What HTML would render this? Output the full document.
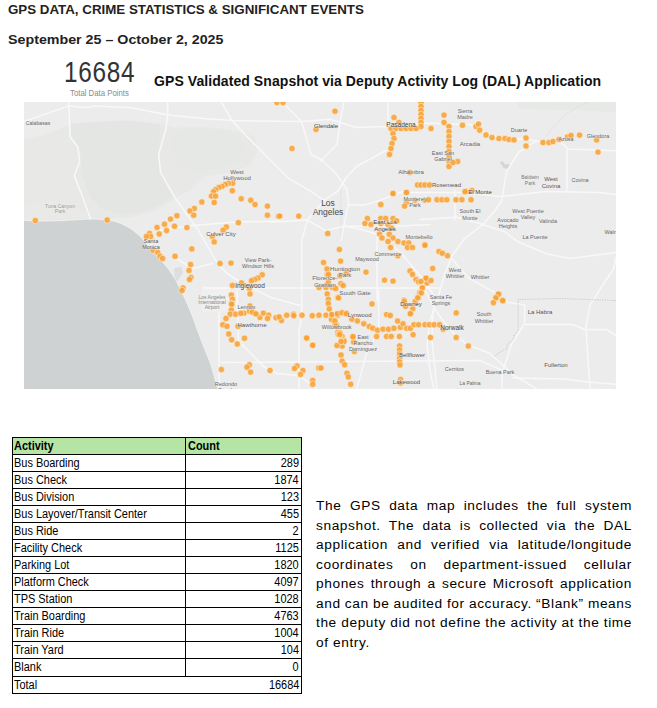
<!DOCTYPE html>
<html><head><meta charset="utf-8">
<style>
html,body{margin:0;padding:0;background:#fff;}
body{width:657px;height:708px;position:relative;overflow:hidden;font-family:"Liberation Sans",sans-serif;color:#000;}
.abs{position:absolute;white-space:nowrap;}
.t1{left:8px;top:2.6px;font-size:12.5px;font-weight:700;color:#222;transform:scaleX(1.066);transform-origin:left top;}
.t2{left:8px;top:32.6px;font-size:12.5px;font-weight:700;color:#222;transform:scaleX(1.14);transform-origin:left top;}
.big{left:63.5px;top:55.5px;font-size:29px;color:#333;letter-spacing:0.85px;transform:scaleX(0.84);transform-origin:left top;}
.sub{left:70px;top:88px;font-size:8.4px;color:#8a8a8a;transform:scaleX(0.93);transform-origin:left top;}
.h2{left:154px;top:73px;font-size:14px;font-weight:700;color:#111;letter-spacing:0.075px;}
.tbl{position:absolute;left:0;top:0;width:657px;height:708px;}
.row{position:absolute;left:13px;width:288px;}
.c1,.c2,.c2l{position:absolute;font-size:12px;line-height:12px;white-space:nowrap;color:#000;}
.c1{left:1px;top:2px;transform:scaleX(0.912);transform-origin:left top;}
.c2l{left:175px;top:2px;transform:scaleX(0.912);transform-origin:left top;}
.c2{right:2px;top:2px;transform:scaleX(0.912);transform-origin:right top;}
.b{font-weight:700;}
.para{position:absolute;left:316px;top:496px;width:316px;font-size:13.7px;line-height:19.5px;color:#000;letter-spacing:0.6px;word-spacing:-1.5px;}
.para .l{display:block;text-align:justify;text-align-last:justify;white-space:nowrap;height:19.5px;}
.para .ll{display:block;text-align:left;height:19.5px;word-spacing:0;}
</style></head><body>
<div class="abs t1">GPS DATA, CRIME STATISTICS &amp; SIGNIFICANT EVENTS</div>
<div class="abs t2">September 25 – October 2, 2025</div>
<div class="abs big">16684</div>
<div class="abs sub">Total Data Points</div>
<div class="abs h2">GPS Validated Snapshot via Deputy Activity Log (DAL) Application</div>
<svg width="592" height="287.5" viewBox="24 101.5 592 287.5" style="position:absolute;left:24px;top:101.5px;display:block">
<rect x="24" y="101.5" width="592" height="287.5" fill="#ececec"/>
<path d="M24,139 L45,134 L70,124 L100,122 L130,121 L160,123 L175,127 L205,126 L235,130 L255,136 L258,150 L250,165 L230,172 L205,176 L190,190 L175,198 L165,205 L150,212 L130,217 L100,219 L60,220 L24,220 Z" fill="#e8e9e7"/>
<path d="M71,123 L100,121 L130,120 L160,124 L159,150 L162,175 L172,196 L160,205 L140,212 L120,214 L100,208 L90,195 L82,175 L80,150 L72,138 Z" fill="#e4e6e3"/>
<path d="M175,130 L200,128 L230,132 L245,145 L240,160 L220,168 L195,172 L180,165 L172,150 Z" fill="#e6e8e5"/>
<path d="M24,205 L50,200 L75,205 L90,215 L24,220 Z" fill="#e9eae8"/>
<path d="M518,101 L616,101 L616,112 L580,110 L540,109 L518,108 Z" fill="#e7e9e6"/>
<path d="M499.7,161.6 L503,161 L505,164 L509,163.5 L511,166 L507,168.5 L503,167 Z" fill="#d3d6d8"/>
<path d="M545,136.5 L556,124 L566,113.7 L578,106 L588.7,101.5" fill="none" stroke="#dcdcdc" stroke-width="0.6"/>
<path d="M174,268 L181,266 L183,272 L178,280 L175,283 Z" fill="#dcdedf"/>
<rect x="202" y="286" width="28" height="25" fill="#f0f0f0"/>
<path d="M15,219.8 L24,219.8 C40,221 60,220.5 80,219 C95,218 107,218.5 117,221.5 C130,226 140,234 147,244 C153,252 158,257 163,262 C170,270 175,277 178,284 C182,292 185,298 188,305 C191,312 194,319 196,326 C199,333 201,340 204,347 C207,354 210,361 212,368 C214,375 216,382 218,389 L220,396 L15,396 L15,219.8 Z" fill="#ced2d2" stroke="#f2f2f2" stroke-width="0.9"/>
<path d="M340.9,189 L340.9,240" fill="none" stroke="#e2e2e2" stroke-width="1"/>
<g fill="none" stroke="#f8f8f8" stroke-width="1.5" stroke-linejoin="round" stroke-linecap="round">
<path d="M24,121 L68.9,105.4 L86.4,107 L95.8,105.4 L131.8,107.2 L167.7,114.4 L203.6,118 L232,120 L260,120.5 L301.5,121 L330,118.7 L356,127 L388,126 L424,122.4 L470,124 L483.7,132 L499.7,137.7 L527,138.8 L538.5,141 L561.3,142.2 L568,148.4 L616,150.2"/>
<path d="M68.9,101 L68.9,105.4 L70,136 L77.9,146.7 L79.7,161 L74.3,175.4 L81.5,193.4 L90.5,218.5"/>
<path d="M167.7,101 L167.7,114.4 L165.9,128.7 L158.7,153.9 L160.5,171.8 L174.9,197 L192.8,222.1 L198,229 L217.5,263 L227,273 L242,282.5 L271,297 L300,305"/>
<path d="M221,101 L232,120 L245,134 L260.6,149.7 L276,165.3 L289,178.2 L310.4,190.7 L324.2,199.8 L337.9,190.7 L342.4,183 L348,175 L356.5,166 L386,150"/>
<path d="M282,101 L301.5,121 L311,154 L321,159 L335,172 L340.9,180 L347,189.1 L348.5,202.8 L343.9,225.7 L340.9,240"/>
<path d="M388,101 L388,126"/>
<path d="M344,101 L339.5,125 L337,144 L320,161"/>
<path d="M348.5,204.4 L365.2,204.4 L380,199.8 L406,190"/>
<path d="M400,192 L462,192 L500,196 L546,191 L599,192 L616,194"/>
<path d="M567,149 L567,190.6"/>
<path d="M536,140.6 L518.7,151.6 L506.6,171 L501.7,200 L495.5,209.5 L483,224 L464,238.7 L451.7,255.8 L444.4,275 L437,300 L430,320 L427,345 L430,370 L434,389"/>
<path d="M270,221.7 L307.4,219.6 L325.7,230.2 L343.9,225.7 L360.7,228.7 L380,234.8 L401.5,253 L426,282.5 L437,300"/>
<path d="M343.9,225.7 L390,226 L430,224"/>
<path d="M159,230 L193,225 L232,221.7 L280,220.5"/>
<path d="M324.2,199.8 L307.4,219.6 L301.7,240"/>
<path d="M176,258 L193,268 L212.6,263"/>
<path d="M203,287.5 L440,287.5"/>
<path d="M301.7,240 L301.7,316 L299,330 L299,389"/>
<path d="M377,236 L377,300"/>
<path d="M420,219 L456.5,216.8 L483,224 L505,231.4 L517.5,241 L546.6,253.3 L570,258 L616,252"/>
<path d="M451.7,258 L468.7,277.7 L495.5,292.3 L508,302 L524.7,304.4 L524.7,323.7"/>
<path d="M455,190 L455,219"/>
<path d="M237,290 L238.5,340 L250.6,353 L263,365.6 L277.5,373 L299.3,375 L316.4,388"/>
<path d="M221,362 L480,360 L514,375"/>
<path d="M219,312 L219,388"/>
<path d="M378.7,290 L378.7,330 L366.5,353 L356.8,388"/>
<path d="M433,309.5 L432,340 L437,389"/>
<path d="M425,290 L437,312 L449.5,329 L466.4,343.6 L490,353 L514,375 L536,388"/>
<path d="M616,257 L613.8,268 L601,287.2 L590.2,304.4 L585.9,325.9 L588,360.2 L590.2,390"/>
<path d="M524,324 L572.7,324 L584.7,329 L606.8,329 L616,335"/>
<path d="M524,324 L511.7,343.6 L502,373 L502,388"/>
<path d="M512.9,377.4 L564.4,378.5 L590.2,381.7 L616,383.8"/>
</g>
<path d="M616,300 L560,298 L518.2,299 L518.2,330 L514,334 L514,338 L510.7,341 L507,344 L507,348 L500,351.6 L494,356" fill="none" stroke="#b8b8b8" stroke-width="0.6" stroke-dasharray="1.5,1"/>
<g fill="#f7a235" fill-opacity="0.88" stroke="#ffffff" stroke-opacity="0.55" stroke-width="0.9">
<circle cx="35.3" cy="220" r="3.2"/>
<circle cx="107.2" cy="219.5" r="3.2"/>
<circle cx="277" cy="102" r="3.2"/>
<circle cx="283" cy="102" r="3.2"/>
<circle cx="316" cy="129" r="3.2"/>
<circle cx="292" cy="148" r="3.2"/>
<circle cx="335" cy="110.7" r="3.2"/>
<circle cx="421" cy="102" r="3.2"/>
<circle cx="421" cy="106" r="3.2"/>
<circle cx="421" cy="110" r="3.2"/>
<circle cx="421" cy="114" r="3.2"/>
<circle cx="421" cy="118" r="3.2"/>
<circle cx="421" cy="122" r="3.2"/>
<circle cx="421" cy="126" r="3.2"/>
<circle cx="391" cy="128" r="3.2"/>
<circle cx="396" cy="128" r="3.2"/>
<circle cx="401" cy="128" r="3.2"/>
<circle cx="406" cy="128" r="3.2"/>
<circle cx="411" cy="128" r="3.2"/>
<circle cx="416" cy="128" r="3.2"/>
<circle cx="394" cy="117" r="3.2"/>
<circle cx="399" cy="122" r="3.2"/>
<circle cx="393" cy="133" r="3.2"/>
<circle cx="394" cy="138" r="3.2"/>
<circle cx="392" cy="143" r="3.2"/>
<circle cx="391" cy="148" r="3.2"/>
<circle cx="389.5" cy="154" r="3.2"/>
<circle cx="431" cy="128" r="3.2"/>
<circle cx="444" cy="122" r="3.2"/>
<circle cx="462.5" cy="124.8" r="3.2"/>
<circle cx="476" cy="126" r="3.2"/>
<circle cx="444" cy="114.6" r="3.2"/>
<circle cx="449" cy="126" r="3.2"/>
<circle cx="449" cy="131" r="3.2"/>
<circle cx="449" cy="136" r="3.2"/>
<circle cx="449" cy="141" r="3.2"/>
<circle cx="449" cy="146" r="3.2"/>
<circle cx="449" cy="151" r="3.2"/>
<circle cx="449" cy="156" r="3.2"/>
<circle cx="449" cy="161" r="3.2"/>
<circle cx="449" cy="166" r="3.2"/>
<circle cx="457.7" cy="161" r="3.2"/>
<circle cx="453" cy="162" r="3.2"/>
<circle cx="417.5" cy="184.5" r="3.2"/>
<circle cx="421" cy="184.5" r="3.2"/>
<circle cx="425" cy="184.5" r="3.2"/>
<circle cx="429.6" cy="184.5" r="3.2"/>
<circle cx="393" cy="193" r="3.2"/>
<circle cx="406.5" cy="192" r="3.2"/>
<circle cx="410" cy="172" r="3.2"/>
<circle cx="466" cy="190.6" r="3.2"/>
<circle cx="472" cy="190" r="3.2"/>
<circle cx="478.5" cy="123.6" r="3.2"/>
<circle cx="479.7" cy="129.7" r="3.2"/>
<circle cx="486" cy="134.5" r="3.2"/>
<circle cx="492" cy="137" r="3.2"/>
<circle cx="499" cy="138" r="3.2"/>
<circle cx="505" cy="138" r="3.2"/>
<circle cx="509" cy="139" r="3.2"/>
<circle cx="514" cy="139.4" r="3.2"/>
<circle cx="526" cy="137.5" r="3.2"/>
<circle cx="526" cy="145.5" r="3.2"/>
<circle cx="543" cy="142" r="3.2"/>
<circle cx="549" cy="142" r="3.2"/>
<circle cx="553" cy="141" r="3.2"/>
<circle cx="559" cy="139" r="3.2"/>
<circle cx="567.5" cy="136.5" r="3.2"/>
<circle cx="571" cy="135" r="3.2"/>
<circle cx="579.6" cy="134.6" r="3.2"/>
<circle cx="596.6" cy="139.4" r="3.2"/>
<circle cx="598" cy="151.6" r="3.2"/>
<circle cx="232.7" cy="182.8" r="3.2"/>
<circle cx="228.4" cy="182.8" r="3.2"/>
<circle cx="225.2" cy="183.9" r="3.2"/>
<circle cx="222" cy="186" r="3.2"/>
<circle cx="218.8" cy="187" r="3.2"/>
<circle cx="215.6" cy="189.2" r="3.2"/>
<circle cx="213.5" cy="191.3" r="3.2"/>
<circle cx="211.4" cy="195.6" r="3.2"/>
<circle cx="215.6" cy="195.6" r="3.2"/>
<circle cx="214.2" cy="202" r="3.2"/>
<circle cx="232.3" cy="190.2" r="3.2"/>
<circle cx="201.8" cy="201.5" r="3.2"/>
<circle cx="194.3" cy="208" r="3.2"/>
<circle cx="190" cy="210.5" r="3.2"/>
<circle cx="193.7" cy="214.7" r="3.2"/>
<circle cx="176.9" cy="215.2" r="3.2"/>
<circle cx="170.5" cy="218.6" r="3.2"/>
<circle cx="164.5" cy="223.7" r="3.2"/>
<circle cx="157" cy="227" r="3.2"/>
<circle cx="174.5" cy="225.8" r="3.2"/>
<circle cx="166.6" cy="230" r="3.2"/>
<circle cx="159.2" cy="233.5" r="3.2"/>
<circle cx="149.6" cy="232.9" r="3.2"/>
<circle cx="150.7" cy="236" r="3.2"/>
<circle cx="146.4" cy="236" r="3.2"/>
<circle cx="186.9" cy="227.1" r="3.2"/>
<circle cx="238.4" cy="222.2" r="3.2"/>
<circle cx="226.3" cy="226.5" r="3.2"/>
<circle cx="223.1" cy="229.7" r="3.2"/>
<circle cx="212.4" cy="236" r="3.2"/>
<circle cx="214.2" cy="241.4" r="3.2"/>
<circle cx="191.8" cy="248.4" r="3.2"/>
<circle cx="241.2" cy="198.3" r="3.2"/>
<circle cx="250.8" cy="199.8" r="3.2"/>
<circle cx="255" cy="204" r="3.2"/>
<circle cx="267.4" cy="205.6" r="3.2"/>
<circle cx="267.4" cy="214.7" r="3.2"/>
<circle cx="278.5" cy="215.8" r="3.2"/>
<circle cx="153" cy="249.7" r="3.2"/>
<circle cx="157.7" cy="252" r="3.2"/>
<circle cx="160" cy="255.8" r="3.2"/>
<circle cx="162.6" cy="258" r="3.2"/>
<circle cx="175" cy="255.8" r="3.2"/>
<circle cx="190.6" cy="264" r="3.2"/>
<circle cx="189" cy="270" r="3.2"/>
<circle cx="191" cy="277" r="3.2"/>
<circle cx="189.4" cy="279" r="3.2"/>
<circle cx="183" cy="287.4" r="3.2"/>
<circle cx="182" cy="290" r="3.2"/>
<circle cx="220" cy="263" r="3.2"/>
<circle cx="231" cy="262.6" r="3.2"/>
<circle cx="262.2" cy="274.3" r="3.2"/>
<circle cx="258" cy="277.5" r="3.2"/>
<circle cx="254.7" cy="279" r="3.2"/>
<circle cx="251.5" cy="280.2" r="3.2"/>
<circle cx="241.5" cy="282.4" r="3.2"/>
<circle cx="232.4" cy="285" r="3.2"/>
<circle cx="249.4" cy="288" r="3.2"/>
<circle cx="250" cy="293.4" r="3.2"/>
<circle cx="231.3" cy="294.5" r="3.2"/>
<circle cx="232.4" cy="298.8" r="3.2"/>
<circle cx="231.3" cy="303" r="3.2"/>
<circle cx="231.3" cy="309.4" r="3.2"/>
<circle cx="230.2" cy="313.7" r="3.2"/>
<circle cx="235.6" cy="313.7" r="3.2"/>
<circle cx="244" cy="312.6" r="3.2"/>
<circle cx="249.4" cy="310.5" r="3.2"/>
<circle cx="254.7" cy="312.6" r="3.2"/>
<circle cx="260" cy="316.9" r="3.2"/>
<circle cx="263.3" cy="312.6" r="3.2"/>
<circle cx="268.6" cy="314.7" r="3.2"/>
<circle cx="267.5" cy="318" r="3.2"/>
<circle cx="276" cy="317.3" r="3.2"/>
<circle cx="281.4" cy="320" r="3.2"/>
<circle cx="286.7" cy="314.7" r="3.2"/>
<circle cx="293.5" cy="313.7" r="3.2"/>
<circle cx="302" cy="314.7" r="3.2"/>
<circle cx="312.3" cy="315.2" r="3.2"/>
<circle cx="319" cy="314.7" r="3.2"/>
<circle cx="326" cy="314.7" r="3.2"/>
<circle cx="331.9" cy="314.3" r="3.2"/>
<circle cx="337.8" cy="314.7" r="3.2"/>
<circle cx="346.4" cy="312.6" r="3.2"/>
<circle cx="226" cy="318" r="3.2"/>
<circle cx="222.8" cy="324.3" r="3.2"/>
<circle cx="227" cy="325.8" r="3.2"/>
<circle cx="228.8" cy="333.5" r="3.2"/>
<circle cx="231.7" cy="339.3" r="3.2"/>
<circle cx="237.3" cy="343.5" r="3.2"/>
<circle cx="238" cy="325.8" r="3.2"/>
<circle cx="244.5" cy="337.8" r="3.2"/>
<circle cx="307" cy="337.8" r="3.2"/>
<circle cx="312.7" cy="344.6" r="3.2"/>
<circle cx="240.8" cy="312.8" r="3.2"/>
<circle cx="252.4" cy="311.6" r="3.2"/>
<circle cx="256" cy="313.4" r="3.2"/>
<circle cx="279.2" cy="316.4" r="3.2"/>
<circle cx="293.8" cy="315.2" r="3.2"/>
<circle cx="250" cy="305.5" r="3.2"/>
<circle cx="231.7" cy="303.7" r="3.2"/>
<circle cx="327.2" cy="274.3" r="3.2"/>
<circle cx="328.3" cy="281.7" r="3.2"/>
<circle cx="319" cy="287" r="3.2"/>
<circle cx="326" cy="287" r="3.2"/>
<circle cx="332.5" cy="287" r="3.2"/>
<circle cx="335.7" cy="288" r="3.2"/>
<circle cx="341" cy="283.2" r="3.2"/>
<circle cx="343.2" cy="285" r="3.2"/>
<circle cx="337.8" cy="297.3" r="3.2"/>
<circle cx="327.2" cy="293.4" r="3.2"/>
<circle cx="328.3" cy="298.8" r="3.2"/>
<circle cx="328.3" cy="303" r="3.2"/>
<circle cx="329.3" cy="308.4" r="3.2"/>
<circle cx="331.5" cy="319" r="3.2"/>
<circle cx="334.7" cy="323.3" r="3.2"/>
<circle cx="337.8" cy="331.8" r="3.2"/>
<circle cx="342.1" cy="336" r="3.2"/>
<circle cx="344.2" cy="340.3" r="3.2"/>
<circle cx="342.1" cy="345.6" r="3.2"/>
<circle cx="340" cy="275.3" r="3.2"/>
<circle cx="346.4" cy="272" r="3.2"/>
<circle cx="323.6" cy="262" r="3.2"/>
<circle cx="327" cy="268.4" r="3.2"/>
<circle cx="328.5" cy="274" r="3.2"/>
<circle cx="279.7" cy="215.6" r="3.2"/>
<circle cx="298.7" cy="215.6" r="3.2"/>
<circle cx="327.7" cy="233" r="3.2"/>
<circle cx="339.4" cy="249" r="3.2"/>
<circle cx="340.6" cy="260.6" r="3.2"/>
<circle cx="366" cy="271.6" r="3.2"/>
<circle cx="384.5" cy="279.6" r="3.2"/>
<circle cx="393" cy="280.6" r="3.2"/>
<circle cx="380.8" cy="204" r="3.2"/>
<circle cx="393" cy="193" r="3.2"/>
<circle cx="406.4" cy="191.9" r="3.2"/>
<circle cx="406.4" cy="201.9" r="3.2"/>
<circle cx="404.6" cy="205.6" r="3.2"/>
<circle cx="415" cy="199.7" r="3.2"/>
<circle cx="424.7" cy="199.7" r="3.2"/>
<circle cx="367.4" cy="218" r="3.2"/>
<circle cx="365" cy="223" r="3.2"/>
<circle cx="371" cy="224" r="3.2"/>
<circle cx="380.8" cy="218" r="3.2"/>
<circle cx="385.7" cy="218" r="3.2"/>
<circle cx="393" cy="218" r="3.2"/>
<circle cx="396.6" cy="220.4" r="3.2"/>
<circle cx="380.8" cy="223" r="3.2"/>
<circle cx="388" cy="224" r="3.2"/>
<circle cx="391.8" cy="227.8" r="3.2"/>
<circle cx="379.6" cy="233.4" r="3.2"/>
<circle cx="382" cy="237.5" r="3.2"/>
<circle cx="389.3" cy="233.8" r="3.2"/>
<circle cx="393" cy="237.5" r="3.2"/>
<circle cx="388" cy="241" r="3.2"/>
<circle cx="390.6" cy="247" r="3.2"/>
<circle cx="397.9" cy="241" r="3.2"/>
<circle cx="404" cy="242.4" r="3.2"/>
<circle cx="408.8" cy="242.4" r="3.2"/>
<circle cx="407.6" cy="247" r="3.2"/>
<circle cx="412.5" cy="247" r="3.2"/>
<circle cx="425" cy="244" r="3.2"/>
<circle cx="397.9" cy="255.3" r="3.2"/>
<circle cx="410" cy="270.4" r="3.2"/>
<circle cx="412.5" cy="274" r="3.2"/>
<circle cx="416" cy="279" r="3.2"/>
<circle cx="418.6" cy="281.3" r="3.2"/>
<circle cx="425.9" cy="277.7" r="3.2"/>
<circle cx="427" cy="282.5" r="3.2"/>
<circle cx="422" cy="287.4" r="3.2"/>
<circle cx="419.8" cy="292.3" r="3.2"/>
<circle cx="418.6" cy="297" r="3.2"/>
<circle cx="404" cy="299.6" r="3.2"/>
<circle cx="465" cy="191.2" r="3.2"/>
<circle cx="428.5" cy="199.3" r="3.2"/>
<circle cx="437" cy="199.3" r="3.2"/>
<circle cx="442" cy="199.3" r="3.2"/>
<circle cx="446.8" cy="199.3" r="3.2"/>
<circle cx="456" cy="199.3" r="3.2"/>
<circle cx="461.9" cy="199.3" r="3.2"/>
<circle cx="471" cy="199.3" r="3.2"/>
<circle cx="424.9" cy="244.8" r="3.2"/>
<circle cx="439" cy="251" r="3.2"/>
<circle cx="442.4" cy="252.8" r="3.2"/>
<circle cx="447.5" cy="255.3" r="3.2"/>
<circle cx="432.7" cy="268" r="3.2"/>
<circle cx="426" cy="277.7" r="3.2"/>
<circle cx="431" cy="280" r="3.2"/>
<circle cx="421" cy="281" r="3.2"/>
<circle cx="422.4" cy="287.4" r="3.2"/>
<circle cx="499" cy="293.5" r="3.2"/>
<circle cx="496.7" cy="297" r="3.2"/>
<circle cx="502.8" cy="299.6" r="3.2"/>
<circle cx="498.3" cy="293.7" r="3.2"/>
<circle cx="495.8" cy="297.3" r="3.2"/>
<circle cx="493.4" cy="302.2" r="3.2"/>
<circle cx="502.7" cy="300.2" r="3.2"/>
<circle cx="221.4" cy="369" r="3.2"/>
<circle cx="249.4" cy="364.3" r="3.2"/>
<circle cx="247" cy="366.7" r="3.2"/>
<circle cx="250.6" cy="371.6" r="3.2"/>
<circle cx="270" cy="370" r="3.2"/>
<circle cx="297" cy="365.5" r="3.2"/>
<circle cx="294.5" cy="368" r="3.2"/>
<circle cx="303" cy="370" r="3.2"/>
<circle cx="300.5" cy="374" r="3.2"/>
<circle cx="318.8" cy="367.5" r="3.2"/>
<circle cx="321" cy="367.5" r="3.2"/>
<circle cx="312.7" cy="380" r="3.2"/>
<circle cx="312.7" cy="383.8" r="3.2"/>
<circle cx="306.6" cy="337.5" r="3.2"/>
<circle cx="312.7" cy="344.8" r="3.2"/>
<circle cx="338.3" cy="333.8" r="3.2"/>
<circle cx="337" cy="345" r="3.2"/>
<circle cx="338.5" cy="297.3" r="3.2"/>
<circle cx="372" cy="303.4" r="3.2"/>
<circle cx="404.3" cy="301" r="3.2"/>
<circle cx="405.5" cy="305.8" r="3.2"/>
<circle cx="412.8" cy="308.3" r="3.2"/>
<circle cx="410.4" cy="313" r="3.2"/>
<circle cx="415.2" cy="301" r="3.2"/>
<circle cx="417.7" cy="297.3" r="3.2"/>
<circle cx="421.3" cy="292.4" r="3.2"/>
<circle cx="331.8" cy="314.1" r="3.2"/>
<circle cx="337.3" cy="313.2" r="3.2"/>
<circle cx="341.9" cy="312.3" r="3.2"/>
<circle cx="346.4" cy="313.2" r="3.2"/>
<circle cx="351.9" cy="318.7" r="3.2"/>
<circle cx="357.4" cy="320.5" r="3.2"/>
<circle cx="363.8" cy="323.3" r="3.2"/>
<circle cx="369.3" cy="326" r="3.2"/>
<circle cx="372.9" cy="327.8" r="3.2"/>
<circle cx="377.5" cy="329.7" r="3.2"/>
<circle cx="383" cy="328.7" r="3.2"/>
<circle cx="388.4" cy="328.7" r="3.2"/>
<circle cx="393.9" cy="327.8" r="3.2"/>
<circle cx="400.3" cy="326.9" r="3.2"/>
<circle cx="403" cy="323.3" r="3.2"/>
<circle cx="406.7" cy="327.8" r="3.2"/>
<circle cx="410.4" cy="327.8" r="3.2"/>
<circle cx="414" cy="324.2" r="3.2"/>
<circle cx="418.6" cy="324.2" r="3.2"/>
<circle cx="425" cy="324.2" r="3.2"/>
<circle cx="429.5" cy="324.2" r="3.2"/>
<circle cx="434.1" cy="324.2" r="3.2"/>
<circle cx="439.6" cy="324.2" r="3.2"/>
<circle cx="443.2" cy="328.7" r="3.2"/>
<circle cx="386.6" cy="314.1" r="3.2"/>
<circle cx="390.3" cy="315" r="3.2"/>
<circle cx="397.6" cy="320.5" r="3.2"/>
<circle cx="410.4" cy="313.2" r="3.2"/>
<circle cx="386.6" cy="336" r="3.2"/>
<circle cx="391.2" cy="336" r="3.2"/>
<circle cx="399.4" cy="336" r="3.2"/>
<circle cx="413.1" cy="334.2" r="3.2"/>
<circle cx="430.5" cy="337" r="3.2"/>
<circle cx="376.6" cy="336" r="3.2"/>
<circle cx="352.8" cy="336" r="3.2"/>
<circle cx="353.7" cy="341.5" r="3.2"/>
<circle cx="336.4" cy="324.2" r="3.2"/>
<circle cx="340" cy="332.4" r="3.2"/>
<circle cx="343.7" cy="339.7" r="3.2"/>
<circle cx="456.2" cy="312.4" r="3.2"/>
<circle cx="456.2" cy="337" r="3.2"/>
<circle cx="468.3" cy="345.5" r="3.2"/>
<circle cx="353" cy="336.3" r="3.2"/>
<circle cx="354.4" cy="351" r="3.2"/>
<circle cx="334.9" cy="320.4" r="3.2"/>
<circle cx="336" cy="325.3" r="3.2"/>
<circle cx="339.7" cy="334" r="3.2"/>
<circle cx="344" cy="341" r="3.2"/>
<circle cx="341" cy="341" r="3.2"/>
<circle cx="341" cy="354.5" r="3.2"/>
<circle cx="342.2" cy="360.6" r="3.2"/>
<circle cx="344.6" cy="364.3" r="3.2"/>
<circle cx="347" cy="372.8" r="3.2"/>
<circle cx="348.3" cy="376.5" r="3.2"/>
<circle cx="350.7" cy="383.8" r="3.2"/>
<circle cx="399.6" cy="345.5" r="3.2"/>
<circle cx="399.6" cy="349.5" r="3.2"/>
<circle cx="399.6" cy="353.5" r="3.2"/>
<circle cx="399.6" cy="358" r="3.2"/>
<circle cx="399.6" cy="361.5" r="3.2"/>
<circle cx="400" cy="364.5" r="3.2"/>
<circle cx="400.6" cy="379" r="3.2"/>
<circle cx="400.6" cy="382.5" r="3.2"/>
</g>
<g font-family="Liberation Sans, sans-serif" text-anchor="middle" stroke="#eeeeee" stroke-width="0.9" stroke-opacity="0.7" paint-order="stroke">
<text x="38" y="124.5" font-size="5.2" font-weight="400" fill="#666">Calabasas</text>
<text x="60" y="207" font-size="5" font-weight="400" fill="#999">Tuna Canyon</text>
<text x="60" y="212" font-size="5" font-weight="400" fill="#999">Park</text>
<text x="237" y="173" font-size="6" font-weight="400" fill="#666">West</text>
<text x="237" y="179.5" font-size="6" font-weight="400" fill="#666">Hollywood</text>
<text x="326" y="127" font-size="6" font-weight="400" fill="#444">Glendale</text>
<text x="401" y="126" font-size="6.5" font-weight="400" fill="#444">Pasadena</text>
<text x="465" y="112" font-size="5.5" font-weight="400" fill="#666">Sierra</text>
<text x="465" y="118" font-size="5.5" font-weight="400" fill="#666">Madre</text>
<text x="470" y="145" font-size="6" font-weight="400" fill="#666">Arcadia</text>
<text x="443" y="154" font-size="5.5" font-weight="400" fill="#666">East San</text>
<text x="443" y="160" font-size="5.5" font-weight="400" fill="#666">Gabriel</text>
<text x="411" y="173" font-size="6" font-weight="400" fill="#666">Alhambra</text>
<text x="446.5" y="186" font-size="6" font-weight="400" fill="#555">Rosemead</text>
<text x="480" y="193.5" font-size="6" font-weight="400" fill="#444">El Monte</text>
<text x="415" y="200" font-size="5.5" font-weight="400" fill="#666">Monterey</text>
<text x="415" y="206.5" font-size="5.5" font-weight="400" fill="#666">Park</text>
<text x="519" y="131" font-size="5.5" font-weight="400" fill="#666">Duarte</text>
<text x="566" y="140" font-size="5.5" font-weight="400" fill="#666">Azusa</text>
<text x="598" y="137.5" font-size="5.5" font-weight="400" fill="#666">Glendora</text>
<text x="530" y="178" font-size="5" font-weight="400" fill="#777">Baldwin</text>
<text x="530" y="184" font-size="5" font-weight="400" fill="#777">Park</text>
<text x="551" y="180" font-size="6" font-weight="400" fill="#555">West</text>
<text x="551" y="187" font-size="6" font-weight="400" fill="#555">Covina</text>
<text x="580" y="181" font-size="5.5" font-weight="400" fill="#666">Covina</text>
<text x="328" y="205.5" font-size="8.5" font-weight="400" fill="#4a4a4a">Los</text>
<text x="328" y="214.3" font-size="8.5" font-weight="400" fill="#4a4a4a">Angeles</text>
<text x="385" y="223" font-size="6" font-weight="400" fill="#444">East Los</text>
<text x="385" y="230" font-size="6" font-weight="400" fill="#444">Angeles</text>
<text x="419" y="238" font-size="5.5" font-weight="400" fill="#666">Montebello</text>
<text x="388" y="255" font-size="5.5" font-weight="400" fill="#666">Commerce</text>
<text x="367" y="260" font-size="5.5" font-weight="400" fill="#666">Maywood</text>
<text x="345" y="270" font-size="6.2" font-weight="400" fill="#666">Huntington</text>
<text x="345" y="276.8" font-size="6.2" font-weight="400" fill="#666">Park</text>
<text x="325" y="279.5" font-size="6" font-weight="400" fill="#666">Florence-</text>
<text x="325" y="286" font-size="6" font-weight="400" fill="#666">Graham</text>
<text x="355" y="294" font-size="6.2" font-weight="400" fill="#666">South Gate</text>
<text x="470" y="212" font-size="5.5" font-weight="400" fill="#666">South El</text>
<text x="470" y="219" font-size="5.5" font-weight="400" fill="#666">Monte</text>
<text x="508" y="221" font-size="5.5" font-weight="400" fill="#666">Avocado</text>
<text x="508" y="227" font-size="5.5" font-weight="400" fill="#666">Heights</text>
<text x="528" y="212" font-size="5.5" font-weight="400" fill="#666">West Puente</text>
<text x="528" y="218" font-size="5.5" font-weight="400" fill="#666">Valley</text>
<text x="548" y="222" font-size="5.5" font-weight="400" fill="#666">Valinda</text>
<text x="535" y="238" font-size="5.5" font-weight="400" fill="#666">La Puente</text>
<text x="613" y="233" font-size="5.5" font-weight="400" fill="#666">Walnut</text>
<text x="455" y="271" font-size="5.5" font-weight="400" fill="#666">West</text>
<text x="455" y="277" font-size="5.5" font-weight="400" fill="#666">Whittier</text>
<text x="480" y="278" font-size="5.5" font-weight="400" fill="#666">Whittier</text>
<text x="441" y="298" font-size="5.5" font-weight="400" fill="#666">Santa Fe</text>
<text x="441" y="304" font-size="5.5" font-weight="400" fill="#666">Springs</text>
<text x="151" y="242" font-size="5.5" font-weight="400" fill="#555">Santa</text>
<text x="151" y="248" font-size="5.5" font-weight="400" fill="#555">Monica</text>
<text x="221" y="235.5" font-size="6" font-weight="400" fill="#555">Culver City</text>
<text x="258" y="261" font-size="5.5" font-weight="400" fill="#666">View Park-</text>
<text x="258" y="267" font-size="5.5" font-weight="400" fill="#666">Windsor Hills</text>
<text x="250" y="287.5" font-size="6.5" font-weight="400" fill="#444">Inglewood</text>
<text x="212" y="298" font-size="5" font-weight="400" fill="#888">Los Angeles</text>
<text x="212" y="303.3" font-size="5" font-weight="400" fill="#888">International</text>
<text x="212" y="308.5" font-size="5" font-weight="400" fill="#888">Airport</text>
<text x="246.5" y="308" font-size="5.5" font-weight="400" fill="#666">Lennox</text>
<text x="252" y="326.5" font-size="6" font-weight="400" fill="#555">Hawthorne</text>
<text x="336.7" y="328.2" font-size="5.5" font-weight="400" fill="#666">Willowbrook</text>
<text x="226" y="385" font-size="5.5" font-weight="400" fill="#666">Redondo</text>
<text x="226" y="391" font-size="5.5" font-weight="400" fill="#666">Beach</text>
<text x="411" y="305" font-size="6" font-weight="400" fill="#444">Downey</text>
<text x="359.7" y="316.5" font-size="6" font-weight="400" fill="#555">Lynwood</text>
<text x="452" y="329" font-size="6.5" font-weight="400" fill="#444">Norwalk</text>
<text x="363" y="338.5" font-size="5.5" font-weight="400" fill="#666">East</text>
<text x="363" y="344.2" font-size="5.5" font-weight="400" fill="#666">Rancho</text>
<text x="363" y="350" font-size="5.5" font-weight="400" fill="#666">Dominguez</text>
<text x="412" y="356" font-size="6" font-weight="400" fill="#555">Bellflower</text>
<text x="454.5" y="370" font-size="5.5" font-weight="400" fill="#666">Cerritos</text>
<text x="406.5" y="383.5" font-size="6" font-weight="400" fill="#555">Lakewood</text>
<text x="470" y="384" font-size="5" font-weight="400" fill="#666">La Palma</text>
<text x="484" y="315" font-size="5.5" font-weight="400" fill="#666">South</text>
<text x="484" y="322" font-size="5.5" font-weight="400" fill="#666">Whittier</text>
<text x="540" y="313" font-size="6" font-weight="400" fill="#555">La Habra</text>
<text x="556" y="366" font-size="6" font-weight="400" fill="#555">Fullerton</text>
<text x="500" y="373" font-size="5.5" font-weight="400" fill="#666">Buena Park</text>
</g>
</svg>
<div class="tbl">
<div class="row" style="top:438px;height:16px;background:#b5e4a4;"><span class="c1 b">Activity</span><span class="c2l b">Count</span></div><div class="row" style="top:455px;height:16px;"><span class="c1">Bus Boarding</span><span class="c2">289</span></div><div class="row" style="top:472px;height:16px;"><span class="c1">Bus Check</span><span class="c2">1874</span></div><div class="row" style="top:489px;height:16px;"><span class="c1">Bus Division</span><span class="c2">123</span></div><div class="row" style="top:506px;height:16px;"><span class="c1">Bus Layover/Transit Center</span><span class="c2">455</span></div><div class="row" style="top:523px;height:16px;"><span class="c1">Bus Ride</span><span class="c2">2</span></div><div class="row" style="top:540px;height:16px;"><span class="c1">Facility Check</span><span class="c2">1125</span></div><div class="row" style="top:557px;height:16px;"><span class="c1">Parking Lot</span><span class="c2">1820</span></div><div class="row" style="top:574px;height:16px;"><span class="c1">Platform Check</span><span class="c2">4097</span></div><div class="row" style="top:591px;height:16px;"><span class="c1">TPS Station</span><span class="c2">1028</span></div><div class="row" style="top:608px;height:16px;"><span class="c1">Train Boarding</span><span class="c2">4763</span></div><div class="row" style="top:625px;height:16px;"><span class="c1">Train Ride</span><span class="c2">1004</span></div><div class="row" style="top:642px;height:16px;"><span class="c1">Train Yard</span><span class="c2">104</span></div><div class="row" style="top:659px;height:17px;"><span class="c1">Blank</span><span class="c2">0</span></div><div class="row" style="top:677px;height:16px;"><span class="c1">Total</span><span class="c2">16684</span></div>
<svg width="657" height="708" style="position:absolute;left:0;top:0">
<g stroke="#000" stroke-width="1" fill="none" shape-rendering="crispEdges">
<line x1="12" y1="437.5" x2="302" y2="437.5"/>
<line x1="12" y1="454.5" x2="302" y2="454.5"/>
<line x1="12" y1="471.5" x2="302" y2="471.5"/>
<line x1="12" y1="488.5" x2="302" y2="488.5"/>
<line x1="12" y1="505.5" x2="302" y2="505.5"/>
<line x1="12" y1="522.5" x2="302" y2="522.5"/>
<line x1="12" y1="539.5" x2="302" y2="539.5"/>
<line x1="12" y1="556.5" x2="302" y2="556.5"/>
<line x1="12" y1="573.5" x2="302" y2="573.5"/>
<line x1="12" y1="590.5" x2="302" y2="590.5"/>
<line x1="12" y1="607.5" x2="302" y2="607.5"/>
<line x1="12" y1="624.5" x2="302" y2="624.5"/>
<line x1="12" y1="641.5" x2="302" y2="641.5"/>
<line x1="12" y1="658.5" x2="302" y2="658.5"/>
<line x1="12" y1="676.5" x2="302" y2="676.5"/>
<line x1="12" y1="693.5" x2="302" y2="693.5"/>
<line x1="12.5" y1="437" x2="12.5" y2="694"/>
<line x1="301.5" y1="437" x2="301.5" y2="694"/>
<line x1="185.5" y1="437" x2="185.5" y2="677"/>
</g></svg>
</div>
<div class="para">
<span class="l">The GPS data map includes the full system</span>
<span class="l">snapshot. The data is collected via the DAL</span>
<span class="l">application and verified via latitude/longitude</span>
<span class="l">coordinates on department-issued cellular</span>
<span class="l">phones through a secure Microsoft application</span>
<span class="l">and can be audited for accuracy. “Blank” means</span>
<span class="l">the deputy did not define the activity at the time</span>
<span class="ll">of entry.</span>
</div>
</body></html>
